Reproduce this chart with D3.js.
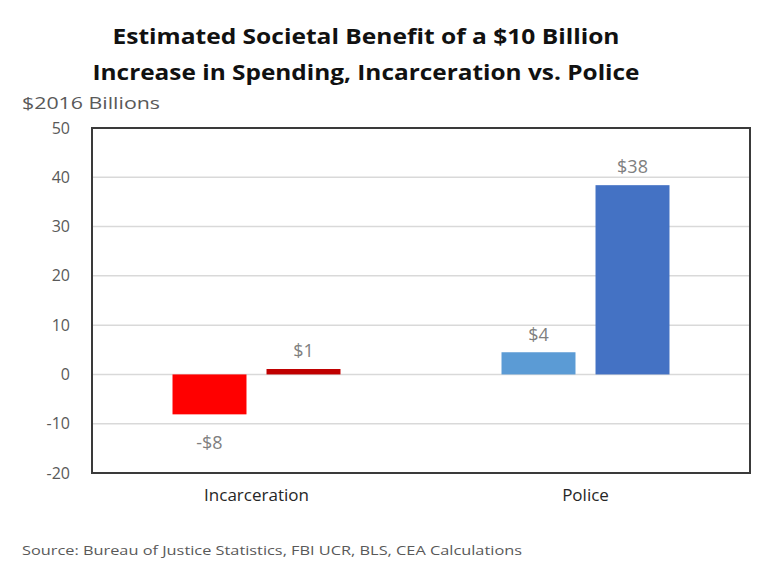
<!DOCTYPE html>
<html>
<head>
<meta charset="utf-8">
<script src="https://cdn.jsdelivr.net/npm/d3@7"></script>
<style>
  body { margin: 0; background: #fff; }
  text { font-family: "Open Sans", "Noto Sans", sans-serif; }
</style>
</head>
<body>
<div id="chart"></div>
<script>
// Data
const categories = ["Incarceration", "Police"];
const series = ["first", "second"];
const values = {
    Incarceration: [-8.1, 1.1],
    Police: [4.5, 38.4]
};
const valueLabels = {
    Incarceration: ["-$8", "$1"],
    Police: ["$4", "$38"]
};
const barColors = {
    Incarceration: ["#ff0000", "#c00000"],
    Police: ["#5b9bd5", "#4472c4"]
};
const yTicks = [-20, -10, 0, 10, 20, 30, 40, 50];

const W = 759, H = 571;
const margin = { top: 128, right: 9, bottom: 98, left: 92 };
const width = W - margin.left - margin.right;
const height = H - margin.top - margin.bottom;

const svg = d3.select("#chart").append("svg")
    .attr("width", W)
    .attr("height", H);

// Title
const title = svg.append("text")
    .attr("x", 366)
    .attr("text-anchor", "middle")
    .attr("font-size", "22px")
    .attr("font-weight", "bold")
    .attr("fill", "#111");
title.append("tspan").attr("x", 366).attr("y", 44)
    .attr("textLength", 507).attr("lengthAdjust", "spacingAndGlyphs")
    .text("Estimated Societal Benefit of a $10 Billion");
title.append("tspan").attr("x", 366).attr("y", 80)
    .attr("textLength", 547).attr("lengthAdjust", "spacingAndGlyphs")
    .text("Increase in Spending, Incarceration vs. Police");

// Y axis unit label
svg.append("text")
    .attr("x", 22)
    .attr("y", 109)
    .attr("font-size", "16px")
    .attr("fill", "#595959")
    .attr("textLength", 138).attr("lengthAdjust", "spacingAndGlyphs")
    .text("$2016 Billions");

const g = svg.append("g")
    .attr("transform", "translate(" + margin.left + "," + margin.top + ")");

// Scales
const y = d3.scaleLinear()
    .domain([-20, 50])
    .range([height, 0]);

const x0 = d3.scaleBand()
    .domain(categories)
    .range([0, width])
    .paddingInner(0.4894)
    .paddingOuter(0.2447);

const x1 = d3.scaleBand()
    .domain(series)
    .range([0, x0.bandwidth()])
    .paddingInner(0.213);

// Gridlines
g.selectAll(".grid")
    .data(yTicks)
  .enter().append("line")
    .attr("class", "grid")
    .attr("x1", 0)
    .attr("x2", width)
    .attr("y1", d => y(d))
    .attr("y2", d => y(d))
    .attr("stroke", "#d9d9d9")
    .attr("stroke-width", 1.5);

// Y axis labels (plain hyphen for negatives, like the original)
const yAxis = d3.axisLeft(y).tickValues(yTicks).tickSize(0).tickPadding(22)
    .tickFormat(d => d < 0 ? "-" + Math.abs(d) : String(d));
g.append("g")
    .call(yAxis)
    .call(a => a.select(".domain").remove())
    .selectAll("text")
    .attr("font-family", "\"Open Sans\", sans-serif")
    .attr("font-size", "16px")
    .attr("fill", "#595959");

// Bars
const groups = g.selectAll(".group")
    .data(categories)
  .enter().append("g")
    .attr("class", "group")
    .attr("transform", d => "translate(" + x0(d) + ",0)");

groups.selectAll("rect")
    .data(c => series.map((s, i) => ({ c, s, i, v: values[c][i] })))
  .enter().append("rect")
    .attr("x", d => x1(d.s))
    .attr("width", x1.bandwidth())
    .attr("y", d => y(Math.max(0, d.v)))
    .attr("height", d => Math.abs(y(d.v) - y(0)))
    .attr("fill", d => barColors[d.c][d.i]);

groups.selectAll(".vlabel")
    .data(c => series.map((s, i) => ({ c, s, i, v: values[c][i] })))
  .enter().append("text")
    .attr("class", "vlabel")
    .attr("x", d => x1(d.s) + x1.bandwidth() / 2)
    .attr("y", d => d.v >= 0 ? y(d.v) - 18 : y(d.v) + 28)
    .attr("dy", "0.35em")
    .attr("text-anchor", "middle")
    .attr("font-size", "18px")
    .attr("fill", "#7f7f7f")
    .text(d => valueLabels[d.c][d.i]);

// Plot border
g.append("rect")
    .attr("x", 0)
    .attr("y", 0)
    .attr("width", width)
    .attr("height", height)
    .attr("fill", "none")
    .attr("stroke", "#3a3a3a")
    .attr("stroke-width", 2);

// X axis labels
const xAxis = d3.axisBottom(x0).tickSize(0).tickPadding(16);
g.append("g")
    .attr("transform", "translate(0," + height + ")")
    .call(xAxis)
    .call(a => a.select(".domain").remove())
    .selectAll("text")
    .attr("font-family", "\"Open Sans\", sans-serif")
    .attr("font-size", "17px")
    .attr("fill", "#262626");

// Source
svg.append("text")
    .attr("x", 22)
    .attr("y", 555)
    .attr("font-size", "12px")
    .attr("fill", "#595959")
    .attr("textLength", 500).attr("lengthAdjust", "spacingAndGlyphs")
    .text("Source: Bureau of Justice Statistics, FBI UCR, BLS, CEA Calculations");
</script>
</body>
</html>
